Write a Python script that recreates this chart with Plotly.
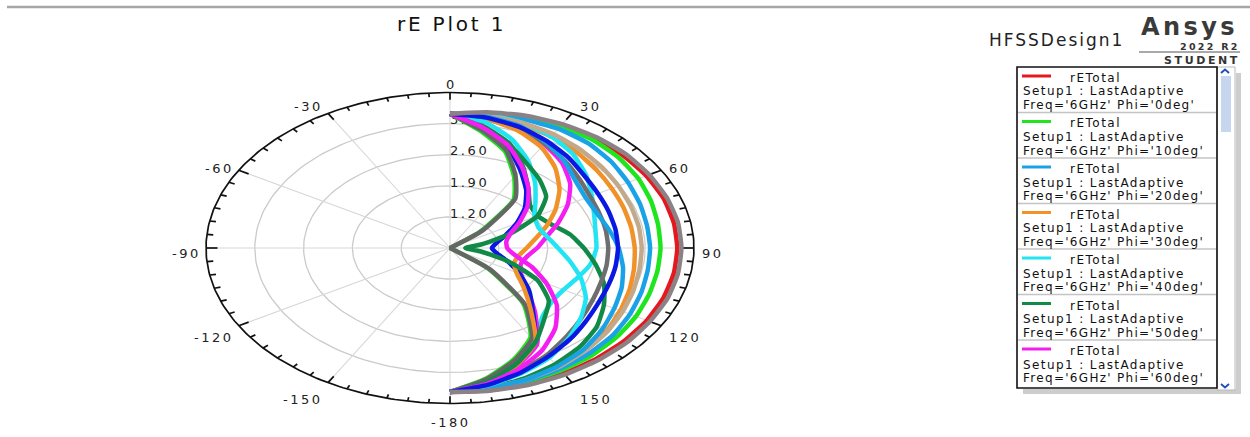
import math
import plotly.graph_objects as go

# ---------------- data ----------------
theta_deg = [0, 10, 20, 30, 40, 50, 60, 70, 80, 90, 100, 110, 120, 130, 140, 150, 160, 170, 180]
phi_deg = [0, 10, 20, 30, 40, 50, 60, 70, 80, 90, 100, 110, 120, 130, 140, 150, 160, 170, 180]

r_phi_0 = [3.52, 3.58, 3.64, 3.69, 3.72, 3.74, 3.75, 3.76, 3.76, 3.76, 3.76, 3.76, 3.76, 3.76, 3.76, 3.76, 3.75, 3.75, 3.74]
r_phi_10 = [3.52, 3.57, 3.62, 3.66, 3.68, 3.66, 3.62, 3.57, 3.53, 3.52, 3.52, 3.54, 3.58, 3.62, 3.66, 3.68, 3.70, 3.72, 3.74]
r_phi_20 = [3.52, 3.55, 3.58, 3.60, 3.58, 3.52, 3.45, 3.40, 3.37, 3.37, 3.38, 3.42, 3.48, 3.55, 3.60, 3.64, 3.68, 3.71, 3.74]
r_phi_30 = [3.52, 3.50, 3.46, 3.40, 3.32, 3.24, 3.18, 3.15, 3.14, 3.15, 3.18, 3.24, 3.32, 3.42, 3.50, 3.58, 3.64, 3.70, 3.74]
r_phi_40 = [3.52, 3.55, 3.50, 3.40, 3.25, 3.05, 2.85, 2.70, 2.62, 2.60, 2.55, 2.45, 2.38, 2.40, 2.55, 2.98, 3.32, 3.58, 3.74]
r_phi_50 = [3.52, 3.28, 3.00, 2.60, 2.25, 2.00, 1.95, 2.05, 2.25, 2.42, 2.62, 2.85, 3.05, 3.25, 3.40, 3.52, 3.62, 3.70, 3.74]
r_phi_60 = [3.52, 3.45, 3.35, 3.20, 3.00, 2.75, 2.45, 2.15, 1.90, 1.75, 1.62, 1.58, 1.68, 1.95, 2.40, 3.00, 3.32, 3.58, 3.74]
r_phi_70 = [3.52, 3.22, 2.92, 2.52, 2.20, 1.90, 1.60, 1.35, 1.18, 1.10, 1.18, 1.38, 1.65, 1.98, 2.35, 2.95, 3.28, 3.56, 3.74]
r_phi_80 = [3.52, 3.15, 2.81, 2.34, 1.92, 1.05, 0.50, 0.50, 0.50, 0.50, 0.50, 0.50, 0.50, 1.20, 2.14, 2.81, 3.17, 3.48, 3.74]
r_phi_90 = [3.52, 3.52, 3.50, 3.46, 3.40, 3.34, 3.29, 3.26, 3.25, 3.25, 3.26, 3.30, 3.36, 3.44, 3.52, 3.60, 3.66, 3.71, 3.74]
r_phi_100 = [3.52, 3.46, 3.36, 3.22, 3.06, 2.92, 2.82, 2.78, 2.77, 2.77, 2.78, 2.80, 2.86, 2.96, 3.10, 3.28, 3.45, 3.62, 3.74]
r_phi_110 = [3.52, 3.18, 2.85, 2.38, 1.96, 1.10, 0.50, 0.50, 0.50, 0.50, 0.50, 0.50, 0.50, 1.25, 2.18, 2.85, 3.20, 3.50, 3.74]
r_phi_120 = [3.52, 3.50, 3.42, 3.25, 3.05, 2.85, 2.75, 2.75, 2.82, 2.92, 3.02, 3.12, 3.22, 3.35, 3.48, 3.58, 3.66, 3.71, 3.74]
r_phi_130 = [3.52, 3.45, 3.32, 3.12, 2.85, 2.55, 2.25, 1.98, 1.75, 1.60, 1.50, 1.48, 1.60, 1.88, 2.30, 2.95, 3.30, 3.57, 3.74]
r_phi_140 = [3.52, 3.38, 3.10, 2.75, 2.40, 2.10, 1.90, 1.85, 1.92, 2.05, 2.25, 2.50, 2.75, 2.95, 3.15, 3.35, 3.50, 3.64, 3.74]
r_phi_150 = [3.52, 3.25, 2.98, 2.70, 2.50, 2.30, 1.95, 1.40, 0.95, 0.72, 0.95, 1.40, 1.95, 2.35, 2.60, 2.95, 3.28, 3.56, 3.74]
r_phi_160 = [3.52, 3.25, 2.95, 2.58, 2.25, 1.95, 1.65, 1.42, 1.32, 1.32, 1.45, 1.75, 2.10, 2.50, 2.85, 3.15, 3.40, 3.60, 3.74]
r_phi_170 = [3.52, 3.48, 3.40, 3.28, 3.15, 3.02, 2.95, 2.92, 2.91, 2.91, 2.91, 2.92, 2.96, 3.05, 3.18, 3.32, 3.48, 3.63, 3.74]
r_phi_180 = [3.52, 3.60, 3.67, 3.72, 3.76, 3.79, 3.80, 3.81, 3.82, 3.82, 3.82, 3.82, 3.81, 3.81, 3.80, 3.79, 3.78, 3.76, 3.74]

series = [r_phi_0, r_phi_10, r_phi_20, r_phi_30, r_phi_40, r_phi_50, r_phi_60, r_phi_70, r_phi_80,
          r_phi_90, r_phi_100, r_phi_110, r_phi_120, r_phi_130, r_phi_140, r_phi_150, r_phi_160,
          r_phi_170, r_phi_180]

radial_tick_values = [1.20, 1.90, 2.60, 3.30]
radial_tick_labels = ["1.20", "1.90", "2.60", "3.30"]
theta_tick_values = [0, 30, 60, 90, 120, 150, 180, -150, -120, -90, -60, -30]
theta_tick_labels = ["0", "30", "60", "90", "120", "150", "-180", "-150", "-120", "-90", "-60", "-30"]
R_MIN, R_MAX = 0.5, 4.0

# ---------------- styles ----------------
colors = ["#E3191F", "#1EE51E", "#1AA2E6", "#F0912A", "#22E4F2", "#118A48", "#F51EF2", "#0A18E2",
          "#1EE51E", "#C2A98C", "#6E6E6E", "#666666", "#1AA2E6", "#F0912A", "#22E4F2", "#118A48",
          "#F51EF2", "#0A18E2", "#8C8285"]

W, H = 1250, 437
CX, CY = 450.0, 248.0      # pixel centre of the polar area
RX, RY = 244.0, 155.5      # pixel semi-axes (the picture is stretched horizontally)
FONT = "DejaVu Sans, Liberation Sans, Arial, sans-serif"


def sp(text, s):
    return '<span style="letter-spacing:%.1fpx">%s</span>' % (s, text)


def rho(r):
    return (max(r, R_MIN) - R_MIN) / (R_MAX - R_MIN)


def to_xy(rs, ths):
    xs, ys = [], []
    for r, t in zip(rs, ths):
        a = math.radians(t)
        xs.append(rho(r) * math.sin(a))
        ys.append(rho(r) * math.cos(a))
    return xs, ys


def px(x):
    return x / W


def py(y):
    return 1 - y / H


fig = go.Figure()

# grid rings and spokes
gx, gy = [], []
for rv in radial_tick_values:
    q = rho(rv)
    for k in range(0, 361, 2):
        a = math.radians(k)
        gx.append(q * math.sin(a))
        gy.append(q * math.cos(a))
    gx.append(None)
    gy.append(None)
fig.add_trace(go.Scatter(x=gx, y=gy, mode="lines", line=dict(color="#CACACA", width=1.3),
                         hoverinfo="skip", showlegend=False))
sx, sy = [], []
for t in theta_tick_values:
    a = math.radians(t)
    sx += [0, math.sin(a), None]
    sy += [0, math.cos(a), None]
fig.add_trace(go.Scatter(x=sx, y=sy, mode="lines", line=dict(color="#D8D8D8", width=1.1),
                         hoverinfo="skip", showlegend=False))

# radial tick labels (under the curves)
fig.add_trace(go.Scatter(
    x=[0.0] * len(radial_tick_values),
    y=[rho(v) + 2.5 / RY for v in radial_tick_values],
    mode="text", text=[sp(t, 2.6) for t in radial_tick_labels],
    textposition="middle right", textfont=dict(family=FONT, size=13, color="#222222"),
    hoverinfo="skip", showlegend=False))

# outer ring and ticks
ox, oy = [], []
for k in range(0, 361, 1):
    a = math.radians(k)
    ox.append(math.sin(a))
    oy.append(math.cos(a))
ox.append(None)
oy.append(None)
for k in range(-180, 180, 5):
    a = math.radians(k)
    L = 0.047 if k % 30 == 0 else 0.026
    ox += [math.sin(a), (1 - L) * math.sin(a), None]
    oy += [math.cos(a), (1 - L) * math.cos(a), None]
fig.add_trace(go.Scatter(x=ox, y=oy, mode="lines", line=dict(color="#111111", width=1.7),
                         hoverinfo="skip", showlegend=False))

# pattern curves
for phi, rs, col in zip(phi_deg, series, colors):
    xs, ys = to_xy(rs, theta_deg)
    fig.add_trace(go.Scatter(x=xs, y=ys, mode="lines", name="rETotal Phi='%ddeg'" % phi,
                             line=dict(color=col, width=4.5, shape="spline", smoothing=0.5),
                             showlegend=False, hoverinfo="skip"))

annotations = []
# angular tick labels
for t, lab in zip(theta_tick_values, theta_tick_labels):
    a = math.radians(t)
    s = math.sin(a)
    c = math.cos(a)
    if abs(s) < 1e-6:
        xa, xs_ = "center", 1
    elif s > 0:
        xa, xs_ = "left", 6
    else:
        xa, xs_ = "right", -3
    annotations.append(dict(x=s, y=c, xref="x", yref="y", text=sp(lab, 2.5), showarrow=False,
                            xanchor=xa, yanchor="middle", xshift=xs_,
                            yshift=-(5 - 13.5 * c),
                            font=dict(family=FONT, size=13, color="#222222")))

# title and header texts
annotations.append(dict(x=px(451), y=py(24), xref="paper", yref="paper", text=sp("rE Plot 1", 2.8),
                        showarrow=False, xanchor="center", yanchor="middle",
                        font=dict(family=FONT, size=20, color="#111111")))
annotations.append(dict(x=px(987), y=py(40), xref="paper", yref="paper", text=sp("HFSSDesign1", 2.0),
                        showarrow=False, xanchor="left", yanchor="middle",
                        font=dict(family=FONT, size=17, color="#222222")))
annotations.append(dict(x=px(1139), y=py(27), xref="paper", yref="paper", text=sp("<b>Ansys</b>", 3.4),
                        showarrow=False, xanchor="left", yanchor="middle",
                        font=dict(family=FONT, size=24, color="#3A3A3A")))
annotations.append(dict(x=px(1242), y=py(47), xref="paper", yref="paper", text=sp("<b>2022 R2</b>", 2.3),
                        showarrow=False, xanchor="right", yanchor="middle",
                        font=dict(family=FONT, size=9.5, color="#333333")))
annotations.append(dict(x=px(1242), y=py(60), xref="paper", yref="paper", text=sp("<b>STUDENT</b>", 2.6),
                        showarrow=False, xanchor="right", yanchor="middle",
                        font=dict(family=FONT, size=11, color="#333333")))

shapes = []
shapes.append(dict(type="line", xref="paper", yref="paper", x0=px(7), x1=px(1250), y0=py(7), y1=py(7),
                   line=dict(color="#A6A6A6", width=2.5)))
shapes.append(dict(type="line", xref="paper", yref="paper", x0=px(1139), x1=px(1240), y0=py(52), y1=py(52),
                   line=dict(color="#555555", width=1)))

# legend box (scrolling list as in the reference)
BX0, BX1, BY0, BY1 = 1017, 1217, 67, 388
shapes.append(dict(type="rect", xref="paper", yref="paper", x0=px(1236), x1=px(1241), y0=py(73), y1=py(394),
                   line=dict(width=0), fillcolor="#CDCDCD"))
shapes.append(dict(type="rect", xref="paper", yref="paper", x0=px(1023), x1=px(1241), y0=py(389), y1=py(394),
                   line=dict(width=0), fillcolor="#CDCDCD"))
shapes.append(dict(type="rect", xref="paper", yref="paper", x0=px(BX1), x1=px(1235), y0=py(BY0), y1=py(BY1 + 2),
                   line=dict(color="#B8B8B8", width=1), fillcolor="#FFFFFF"))
shapes.append(dict(type="rect", xref="paper", yref="paper", x0=px(1221), x1=px(1231), y0=py(76), y1=py(132),
                   line=dict(width=0), fillcolor="#C6D6EE"))
shapes.append(dict(type="path", xref="paper", yref="paper",
                   path="M %f %f L %f %f L %f %f" % (px(1221), py(73), px(1225), py(69.5), px(1229), py(73)),
                   line=dict(color="#2050C0", width=2)))
shapes.append(dict(type="path", xref="paper", yref="paper",
                   path="M %f %f L %f %f L %f %f" % (px(1221), py(384), px(1225), py(387.5), px(1229), py(384)),
                   line=dict(color="#2050C0", width=2)))
shapes.append(dict(type="rect", xref="paper", yref="paper", x0=px(BX0), x1=px(BX1), y0=py(BY0), y1=py(BY1),
                   line=dict(color="#111111", width=1.6), fillcolor="rgba(0,0,0,0)"))

ENTRY_H = 45.5
for i in range(7):
    top = BY0 + ENTRY_H * i
    if i > 0:
        shapes.append(dict(type="line", xref="paper", yref="paper", x0=px(BX0 + 1), x1=px(BX1 - 1),
                           y0=py(top), y1=py(top), line=dict(color="#C4C4C4", width=1.6)))
    shapes.append(dict(type="line", xref="paper", yref="paper", x0=px(1022), x1=px(1051),
                       y0=py(top + 9), y1=py(top + 9), line=dict(color=colors[i], width=3)))
    annotations.append(dict(x=px(1068), y=py(top + 11), xref="paper", yref="paper",
                            text=sp("rETotal", 1.5), showarrow=False, xanchor="left", yanchor="middle",
                            font=dict(family=FONT, size=12, color="#111111")))
    annotations.append(dict(x=px(1021), y=py(top + 24.5), xref="paper", yref="paper",
                            text=sp("Setup1 : LastAdaptive", 1.4), showarrow=False, xanchor="left",
                            yanchor="middle", font=dict(family=FONT, size=12, color="#111111")))
    annotations.append(dict(x=px(1021), y=py(top + 38), xref="paper", yref="paper",
                            text=sp("Freq='6GHz' Phi='%ddeg'" % phi_deg[i], 1.3), showarrow=False,
                            xanchor="left", yanchor="middle",
                            font=dict(family=FONT, size=12, color="#111111")))

fig.update_layout(
    width=W, height=H, autosize=False,
    margin=dict(l=0, r=0, t=0, b=0, pad=0),
    paper_bgcolor="#FFFFFF", plot_bgcolor="#FFFFFF",
    showlegend=False,
    xaxis=dict(range=[-CX / RX, (W - CX) / RX], domain=[0, 1], visible=False, fixedrange=True),
    yaxis=dict(range=[-(H - CY) / RY, CY / RY], domain=[0, 1], visible=False, fixedrange=True),
    annotations=annotations,
    shapes=shapes,
)

fig.write_html("out.html")
